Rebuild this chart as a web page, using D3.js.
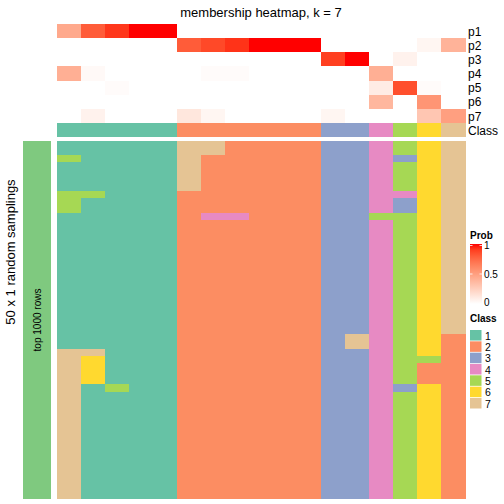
<!DOCTYPE html>
<html><head><meta charset="utf-8">
<script src="https://cdn.jsdelivr.net/npm/d3@7"></script>
<style>body{margin:0;background:#fff}svg{display:block}text{font-family:"Liberation Sans",Arial,sans-serif}</style>
</head><body>
<script>
const title = "membership heatmap, k = 7";
const probRows = ["p1","p2","p3","p4","p5","p6","p7"];
const classLevels = [1,2,3,4,5,6,7];
const classColors = ["#66C2A5","#FC8D62","#8DA0CB","#E78AC3","#A6D854","#FFD92F","#E5C494"];
const colClass = [1,1,1,1,1,2,2,2,2,2,2,3,3,4,5,6,7];
const p1 = [0.45,0.8,0.92,1,1,0,0,0,0,0,0,0,0,0,0,0,0];
const p2 = [0,0,0,0,0,0.8,0.87,0.93,1,1,1,0,0,0,0,0.05,0.4];
const p3 = [0,0,0,0,0,0,0,0,0,0,0,0.9,1,0,0.07,0,0];
const p4 = [0.42,0.03,0,0,0,0,0.02,0.02,0,0,0,0,0,0.42,0,0,0];
const p5 = [0,0,0.02,0,0,0,0,0,0,0,0,0,0,0.1,0.85,0.02,0];
const p6 = [0,0,0,0,0,0,0,0,0,0,0,0,0,0.38,0,0.55,0];
const p7 = [0,0.07,0,0,0,0.13,0.05,0,0,0,0,0.05,0,0,0,0.3,0.5];
const probData = [p1,p2,p3,p4,p5,p6,p7];
// 50 samplings x 17 columns, class per cell
const samplings = [
"11111772222334567","11111772222334567","51111722222334367","11111722222334567",
"11111722222334567","11111722222334567","11111722222334567","55111222222334467",
"51111222222334367","51111222222334367","11111244222335567","11111222222334567",
"11111222222334567","11111222222334567","11111222222334567","11111222222334567",
"11111222222334567","11111222222334567","11111222222334567","11111222222334567",
"11111222222334567","11111222222334567","11111222222334567","11111222222334567",
"11111222222334567","11111222222334567","11111222222334567","11111222222374562",
"11111222222374562","77111222222334562","76111222222334552","76111222222334522",
"76111222222334522","76111222222334522","71511222222334362","71111222222334562",
"71111222222334562","71111222222334562","71111222222334562","71111222222334562",
"71111222222334562","71111222222334562","71111222222334562","71111222222334562",
"71111222222334562","71111222222334562","71111222222334562","71111222222334562",
"71111222222334562","71111222222334562"];
const probTicks = [0,0.5,1];

const W=504,H=504;
const svg=d3.select("body").append("svg").attr("width",W).attr("height",H);
const nCol=colClass.length;
const x=d3.scaleBand().domain(d3.range(nCol)).range([57,465]);
const yTop=d3.scaleBand().domain(d3.range(8)).range([24,137.3]);
const y=d3.scaleBand().domain(d3.range(samplings.length)).range([141,499]);
const probColor=d3.scaleLinear().domain([0,1]).range(["#ffffff","#ff0000"]).interpolate(d3.interpolateLab);
const clsColor=d3.scaleOrdinal().domain(classLevels).range(classColors);

svg.append("text").attr("x",261).attr("y",17).attr("text-anchor","middle").attr("font-size",13).text(title);

// prob rows
probData.forEach((row,r)=>{
  svg.append("g").attr("shape-rendering","crispEdges").selectAll("rect").data(row).join("rect")
    .attr("x",(d,i)=>x(i)).attr("y",yTop(r)).attr("width",x.bandwidth()+0.5).attr("height",yTop.bandwidth()+0.5)
    .attr("fill",d=>probColor(d));
  svg.append("text").attr("x",468).attr("y",yTop(r)+yTop.bandwidth()/2+4.5).attr("font-size",12).text(probRows[r]);
});
svg.append("g").attr("shape-rendering","crispEdges").selectAll("rect").data(colClass).join("rect")
  .attr("x",(d,i)=>x(i)).attr("y",yTop(7)).attr("width",x.bandwidth()+0.5).attr("height",yTop.bandwidth())
  .attr("fill",d=>clsColor(d));
svg.append("text").attr("x",468).attr("y",yTop(7)+yTop.bandwidth()/2+4.5).attr("font-size",12).text("Class");

// main heatmap
const cells=[];
samplings.forEach((s,r)=>{for(let c=0;c<s.length;c++)cells.push({r,c,v:+s[c]});});
svg.append("g").attr("shape-rendering","crispEdges").selectAll("rect").data(cells).join("rect")
  .attr("x",d=>x(d.c)).attr("y",d=>y(d.r)).attr("width",x.bandwidth()+0.5)
  .attr("height",d=>d.r===samplings.length-1?y.bandwidth():y.bandwidth()+0.6)
  .attr("fill",d=>clsColor(d.v));

// left annotation bar
svg.append("rect").attr("x",23).attr("y",141).attr("width",28).attr("height",358).attr("fill","#7FC97F");
svg.append("text").attr("transform","translate(41,320) rotate(-90)").attr("text-anchor","middle").attr("font-size",10).text("top 1000 rows");
svg.append("text").attr("transform","translate(15,252) rotate(-90)").attr("text-anchor","middle").attr("font-size",13).text("50 x 1 random samplings");

// Prob legend
svg.append("text").attr("x",470).attr("y",239).attr("font-size",10).attr("font-weight","bold").text("Prob");
const defs=svg.append("defs");
const grad=defs.append("linearGradient").attr("id","pg").attr("x1",0).attr("y1",1).attr("x2",0).attr("y2",0);
d3.range(0,1.01,0.1).forEach(t=>grad.append("stop").attr("offset",t).attr("stop-color",probColor(t)));
const ly=d3.scaleLinear().domain([0,1]).range([302.5,245.5]);
svg.append("rect").attr("x",470).attr("y",244).attr("width",12).attr("height",60).attr("fill","url(#pg)");
probTicks.forEach(t=>{
  if(t>0){
    svg.append("line").attr("x1",470).attr("x2",472.5).attr("y1",ly(t)).attr("y2",ly(t)).attr("stroke","#fff").attr("stroke-width",0.8);
    svg.append("line").attr("x1",479.5).attr("x2",482).attr("y1",ly(t)).attr("y2",ly(t)).attr("stroke","#fff").attr("stroke-width",0.8);
  }
  svg.append("text").attr("x",484).attr("y",ly(t)+3.5).attr("font-size",10).text(t);
});

// Class legend
svg.append("text").attr("x",470).attr("y",322).attr("font-size",10).attr("font-weight","bold").text("Class");
const ls=d3.scaleBand().domain(classLevels).range([330,409.3]);
svg.append("g").selectAll("rect").data(classLevels).join("rect")
  .attr("x",470).attr("y",d=>ls(d)).attr("width",11.5).attr("height",ls.bandwidth()-0.8)
  .attr("fill",d=>clsColor(d));
svg.append("g").selectAll("text").data(classLevels).join("text")
  .attr("x",485).attr("y",d=>ls(d)+ls.bandwidth()/2+4).attr("font-size",10.5).text(d=>d);
</script>
</body></html>
